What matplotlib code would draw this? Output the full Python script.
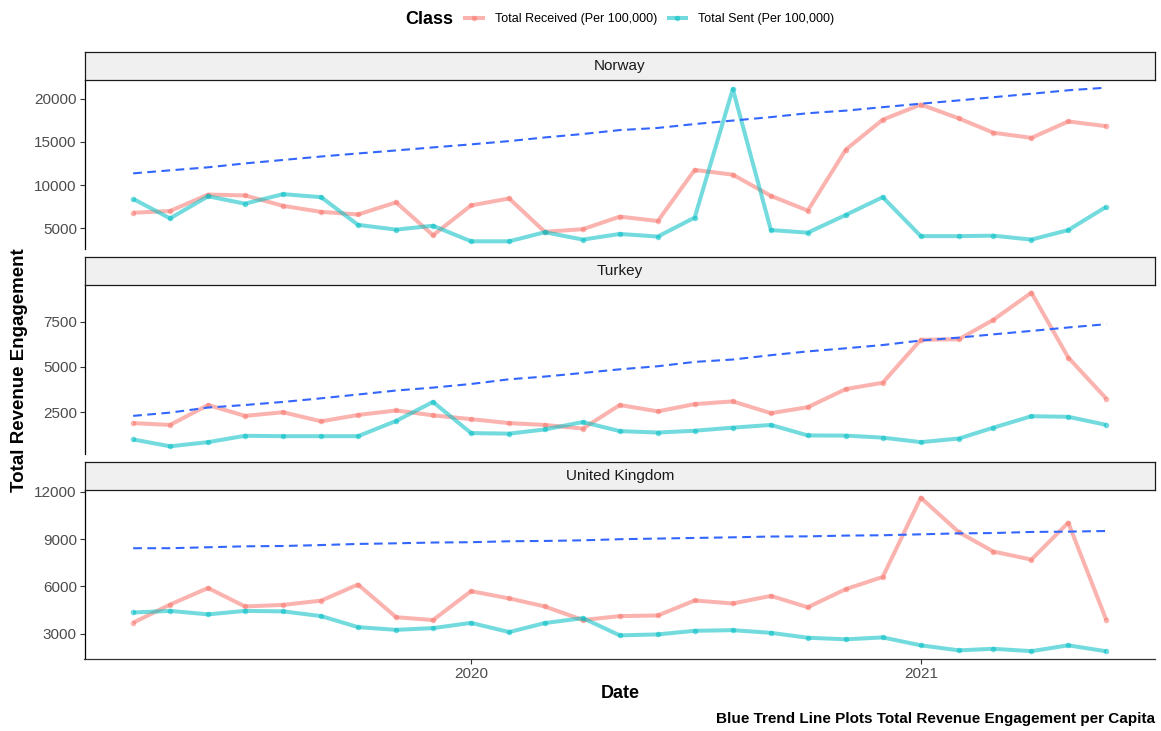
import numpy as np
import pandas as pd
import matplotlib
matplotlib.use("Agg")
import matplotlib.pyplot as plt
import matplotlib.dates as mdates
from matplotlib.lines import Line2D

plt.rcParams['font.family'] = ['Liberation Sans', 'DejaVu Sans']

# monthly observations, Apr 2019 - Jun 2021
dates = pd.date_range("2019-04-01", "2021-06-01", freq="MS")

countries = ["Norway", "Turkey", "United Kingdom"]

norway_received = [6800, 7000, 8900, 8800, 7600, 6900, 6600, 8000, 4200, 7650,
                   8450, 4600, 4900, 6350, 5850, 11750, 11200, 8750, 7050, 14100,
                   17550, 19300, 17700, 16050, 15450, 17350, 16800]
norway_sent = [8400, 6150, 8700, 7850, 8950, 8600, 5400, 4850, 5300, 3500,
               3500, 4550, 3700, 4350, 4050, 6250, 21100, 4800, 4500, 6550,
               8600, 4100, 4100, 4150, 3700, 4800, 7500]
norway_trend = [11350, 11700, 12050, 12500, 12900, 13300, 13650, 14000, 14350, 14700,
                15080, 15500, 15900, 16350, 16600, 17050, 17450, 17850, 18300, 18600,
                19000, 19400, 19780, 20150, 20550, 20950, 21250]

turkey_received = [1900, 1800, 2900, 2300, 2500, 2000, 2350, 2600, 2330, 2120,
                   1900, 1800, 1600, 2900, 2550, 2950, 3100, 2450, 2780, 3780,
                   4130, 6500, 6530, 7600, 9100, 5520, 3250]
turkey_sent = [1000, 620, 850, 1200, 1180, 1180, 1180, 2020, 3070, 1350,
               1320, 1550, 1960, 1460, 1380, 1480, 1650, 1800, 1220, 1210,
               1100, 850, 1050, 1650, 2280, 2250, 1800]
turkey_trend = [2300, 2480, 2760, 2900, 3070, 3270, 3480, 3700, 3860, 4060,
                4320, 4470, 4670, 4870, 5040, 5280, 5410, 5650, 5860, 6030,
                6210, 6460, 6620, 6800, 6990, 7180, 7360]

uk_received = [3700, 4850, 5900, 4730, 4830, 5100, 6120, 4050, 3870, 5700,
               5240, 4730, 3870, 4120, 4160, 5110, 4920, 5400, 4680, 5830,
               6600, 11620, 9430, 8210, 7700, 10040, 3870]
uk_sent = [4350, 4450, 4230, 4450, 4420, 4120, 3420, 3250, 3360, 3690,
           3110, 3680, 3990, 2900, 2960, 3190, 3230, 3060, 2750, 2650,
           2770, 2270, 1950, 2050, 1900, 2270, 1890]
uk_trend = [8420, 8420, 8480, 8540, 8560, 8620, 8690, 8730, 8780, 8800,
            8860, 8880, 8920, 8990, 9030, 9070, 9110, 9160, 9170, 9220,
            9240, 9300, 9360, 9380, 9450, 9470, 9510]

received = [norway_received, turkey_received, uk_received]
sent = [norway_sent, turkey_sent, uk_sent]
trend = [norway_trend, turkey_trend, uk_trend]
yticks = [[5000, 10000, 15000, 20000], [2500, 5000, 7500], [3000, 6000, 9000, 12000]]

series_labels = ["Total Received (Per 100,000)", "Total Sent (Per 100,000)"]
RED = "#F8766D"
CYAN = "#00BFC4"
TREND = "#3366FF"
ALPHA = 0.55

W, H = 1161, 731
fig = plt.figure(figsize=(W / 100, H / 100), dpi=100)

def fx(px):
    return px / W

def fy(py):
    return 1 - py / H

left, right = 84.5, 1155
panel_tops = [80, 285, 490]
panel_h = 169
strip_h = 28

for i, country in enumerate(countries):
    top = panel_tops[i]
    ax = fig.add_axes([fx(left), fy(top + panel_h), fx(right - left), panel_h / H])
    sx = fig.add_axes([fx(left), fy(top), fx(right - left), strip_h / H])

    for vals, col in [(received[i], RED), (sent[i], CYAN)]:
        ax.plot(dates, vals, color=col, lw=2.9, alpha=ALPHA, solid_capstyle="butt")
        ax.plot(dates, vals, ls="none", marker="o", ms=4, mew=0, color=col, alpha=ALPHA)
    ax.plot(dates, trend[i], color=TREND, lw=1.5, ls=(0, (4.2, 2.6)))

    ax.margins(x=0.05, y=0.05)
    ax.set_yticks(yticks[i])
    ax.xaxis.set_major_locator(mdates.YearLocator())
    ax.xaxis.set_major_formatter(mdates.DateFormatter("%Y"))
    ax.tick_params(direction="out", length=3.5, width=0.8, color="#333333",
                   labelcolor="#4D4D4D", labelsize=11, pad=2)
    for s in ["top", "right"]:
        ax.spines[s].set_visible(False)
    ax.spines["left"].set_linewidth(0.9)
    ax.spines["bottom"].set_linewidth(0.9)
    ax.spines["bottom"].set_color("#333333")
    if i < len(countries) - 1:
        ax.spines["bottom"].set_visible(False)
        ax.tick_params(axis="x", bottom=False, labelbottom=False)

    # facet strip
    sx.set_facecolor("#F0F0F0")
    sx.set_xticks([])
    sx.set_yticks([])
    for s in sx.spines.values():
        s.set_linewidth(0.9)
        s.set_color("#1A1A1A")
    sx.text(0.5, 0.5, country, transform=sx.transAxes, ha="center", va="center",
            fontsize=11, color="#1A1A1A")

# legend across the top
handles = [Line2D([], [], color=c, lw=2.9, alpha=ALPHA, marker="o", ms=4, mew=0)
           for c in (RED, CYAN)]
fig.text(fx(405), fy(19), "Class", fontsize=13, fontweight="bold", ha="left", va="center")
fig.legend(handles, series_labels, loc="center left", bbox_to_anchor=(fx(465), fy(19)),
           ncol=2, frameon=False, fontsize=9, handlelength=1.4, handletextpad=1.0,
           columnspacing=0.9, borderaxespad=0, borderpad=0)

fig.text(fx(20), fy(370), "Total Revenue Engagement", rotation=90, fontsize=13.5,
         fontweight="bold", ha="center", va="center")
fig.text(fx(620), fy(693), "Date", fontsize=13, fontweight="bold", ha="center", va="center")
fig.text(fx(1155), fy(719), "Blue Trend Line Plots Total Revenue Engagement per Capita",
         fontsize=11, fontweight="bold", ha="right", va="center")

fig.savefig("out.png", dpi=100)
